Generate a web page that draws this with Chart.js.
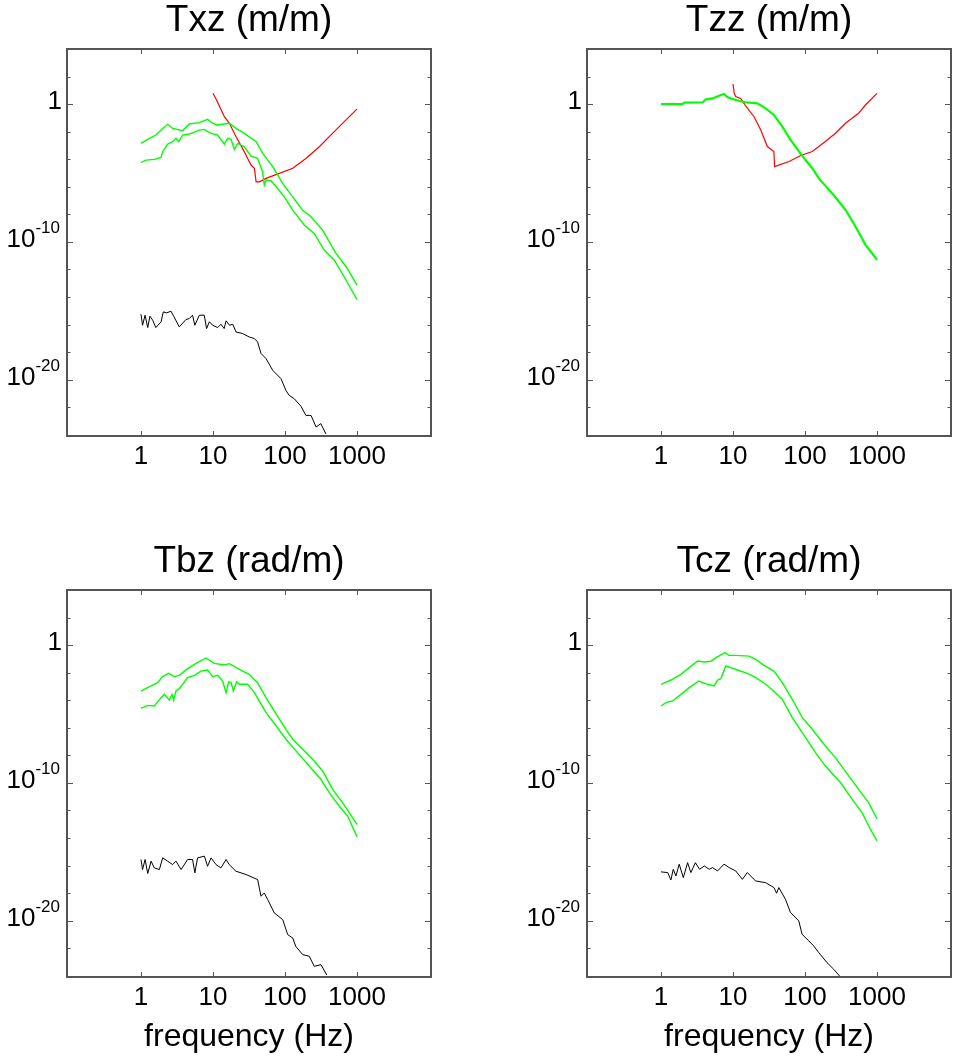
<!DOCTYPE html>
<html>
<head>
<meta charset="utf-8">
<script src="https://cdn.jsdelivr.net/npm/chart.js@4.4.1/dist/chart.umd.min.js"></script>
<style>
  html, body { margin: 0; padding: 0; background: #fff; overflow: hidden; }
  body { position: relative; width: 953px; height: 1061px; }
  canvas { position: absolute; }
</style>
</head>
<body>
<canvas id="txz" width="476" height="500" style="left:0;top:0"></canvas>
<canvas id="tzz" width="433" height="500" style="left:520px;top:0"></canvas>
<canvas id="tbz" width="476" height="520" style="left:0;top:541px"></canvas>
<canvas id="tcz" width="433" height="520" style="left:520px;top:541px"></canvas>
<script>
// frequencies in Hz, values given as log10 of the transfer magnitude

// Txz (m/m)
const txzUpperF = [1, 1.31, 1.61, 2.0, 2.35, 2.75, 3.79, 4.69, 6.46, 8.43, 9.9, 11.6, 16.9, 20.9, 27.2, 39.7, 49, 67.6, 92.7, 128, 176, 230, 333, 510, 708, 1000];
const txzUpperLog = [-2.84, -2.47, -2.23, -1.75, -1.45, -1.75, -1.91, -1.43, -1.33, -1.09, -1.38, -1.5, -1.38, -1.75, -2.11, -2.72, -3.56, -4.53, -5.75, -6.72, -7.69, -8.17, -9.14, -10.83, -11.8, -13.14];
const txzLowerF = [1, 1.17, 1.53, 1.9, 2.0, 2.35, 2.75, 3.06, 3.33, 3.79, 4.69, 6.46, 7.56, 9.38, 11.6, 14.4, 16.0, 17.8, 19.8, 22.1, 27.2, 33.8, 41.6, 48.8, 51.6, 54.5, 63.9, 75.5, 98, 128, 186, 255, 350, 485, 708, 1000];
const txzLowerLog = [-4.24, -4.05, -4.0, -3.85, -3.44, -2.89, -2.71, -2.47, -2.71, -2.23, -2.16, -1.87, -1.82, -2.11, -2.23, -2.89, -2.47, -2.55, -3.27, -2.84, -3.08, -3.76, -3.93, -4.9, -5.87, -5.5, -5.55, -5.99, -6.72, -7.69, -8.78, -9.38, -10.59, -11.32, -12.78, -14.18];
const txzRedF = [10, 11.2, 14.4, 16.9, 20.9, 25.7, 30.3, 33.8, 37.6, 39.7, 44, 54.5, 83.5, 128, 195, 300, 412, 630, 1000];
const txzRedLog = [0.8, 0.31, -0.9, -1.38, -2.35, -3.2, -3.93, -4.41, -4.65, -5.63, -5.63, -5.38, -5.02, -4.65, -3.93, -3.08, -2.35, -1.38, -0.35];
const txzBlackF = [1, 1.05, 1.14, 1.24, 1.33, 1.45, 1.61, 1.9, 2.04, 2.27, 2.61, 2.84, 3.4, 4.2, 4.69, 5.2, 5.6, 6.46, 7.56, 8.14, 8.9, 9.9, 11.6, 12.9, 14.3, 15.2, 16.9, 18.8, 20.9, 25.7, 31.8, 37.6, 41.6, 46.4, 54.5, 67.4, 88, 103, 114, 134, 167, 195, 230, 270, 315, 370];
const txzBlackLog = [-15.25, -16.05, -15.32, -16.22, -15.39, -15.68, -16.22, -15.8, -15.08, -15.15, -15.03, -15.39, -16.17, -15.64, -15.56, -15.32, -16.05, -15.32, -15.32, -16.29, -15.8, -16.05, -16.22, -15.98, -16.29, -15.73, -16.05, -15.98, -16.54, -16.65, -16.9, -17.02, -17.26, -18.1, -18.47, -19.32, -19.93, -20.78, -21.14, -21.38, -21.94, -22.6, -22.6, -23.44, -23.2, -23.95];

// Tzz (m/m)
const tzzGreenF = [1, 2.0, 2.1, 3.8, 4.2, 5.2, 6.4, 7.5, 8.4, 9.9, 12.2, 15.0, 21.8, 28.4, 37, 48.4, 63, 82, 101, 126, 155, 202, 265, 365, 500, 690, 850, 1000];
const tzzGreenLog = [0.02, 0.02, 0.12, 0.15, 0.36, 0.43, 0.63, 0.75, 0.51, 0.39, 0.24, 0.15, 0.07, -0.29, -0.77, -1.62, -2.58, -3.4, -4.03, -4.64, -5.36, -6.05, -6.75, -7.66, -8.86, -10.19, -10.8, -11.3];
const tzzRedF = [10.0, 10.4, 10.9, 12.8, 15, 19.6, 24.3, 30, 37, 37.8, 60, 86, 126, 192, 265, 365, 555, 690, 1000];
const tzzRedLog = [1.47, 0.8, 0.56, 0.43, -0.12, -0.9, -1.86, -3.07, -3.43, -4.52, -4.15, -3.74, -3.43, -2.7, -2.1, -1.38, -0.65, -0.05, 0.8];

// Tbz (rad/m)
const tbzUpperF = [1, 1.31, 1.7, 2.0, 2.42, 2.9, 3.4, 4.45, 5.8, 8.0, 10.4, 14.4, 16.9, 23.2, 31.8, 41.6, 54.5, 75.5, 103, 128, 176, 255, 333, 459, 630, 780, 1000];
const tbzUpperLog = [-3.32, -3.0, -2.71, -2.27, -2.03, -2.27, -2.18, -1.69, -1.31, -0.92, -1.31, -1.43, -1.33, -1.74, -2.11, -2.71, -3.8, -5.0, -6.1, -6.82, -7.55, -8.4, -9.13, -10.46, -11.43, -12.15, -13.0];
const tbzLowerF = [1, 1.24, 1.53, 1.9, 2.11, 2.47, 2.7, 2.84, 3.06, 3.4, 4.45, 5.5, 6.8, 8.4, 9.9, 11.6, 13.6, 15.2, 16.5, 17.8, 19.2, 21.3, 23.2, 30.3, 37.6, 54.5, 75.5, 103, 142, 217, 315, 412, 565, 740, 1000];
const tbzLowerLog = [-4.58, -4.36, -4.41, -3.8, -3.56, -3.97, -3.56, -3.97, -3.32, -3.15, -2.35, -2.18, -1.87, -1.79, -2.27, -2.18, -2.59, -3.44, -2.66, -2.71, -3.32, -2.64, -2.83, -2.83, -3.44, -4.89, -5.86, -6.82, -7.67, -8.77, -9.73, -10.7, -11.67, -12.4, -13.9];
const tbzBlackF = [1, 1.05, 1.14, 1.24, 1.38, 1.53, 1.8, 2.0, 2.34, 2.75, 3.06, 3.6, 4.45, 5.2, 5.6, 6.1, 7.6, 8.4, 9.4, 11.0, 12.9, 15.2, 16.8, 20.8, 28.7, 41.7, 46.4, 51.5, 57.5, 71, 93, 109, 128, 141, 176, 217, 255, 316, 380];
const tbzBlackLog = [-15.56, -16.29, -15.56, -16.58, -15.68, -16.17, -16.29, -15.44, -15.68, -15.93, -15.68, -16.29, -15.56, -15.56, -16.53, -15.44, -15.32, -16.05, -15.44, -15.93, -16.17, -15.56, -15.93, -16.41, -16.65, -17.02, -18.23, -17.99, -18.47, -19.44, -19.93, -21.02, -21.26, -21.87, -22.47, -22.59, -23.32, -23.2, -23.95];

// Tcz (rad/m)
const tczUpperF = [1, 1.38, 1.89, 2.47, 3.22, 3.98, 4.93, 5.78, 7.78, 8.8, 10.9, 16.7, 20.7, 27, 37, 48.3, 66.6, 91.6, 126, 192, 264, 405, 556, 765, 1000];
const tczUpperLog = [-2.83, -2.52, -2.11, -1.62, -1.14, -1.21, -1.16, -0.89, -0.53, -0.73, -0.73, -0.78, -1.02, -1.45, -1.87, -2.71, -3.92, -5.25, -6.1, -7.31, -8.16, -9.49, -10.46, -11.43, -12.6];
const tczLowerF = [1, 1.17, 1.45, 1.89, 2.47, 3.33, 4.43, 5.47, 6.1, 6.77, 7.94, 9.3, 11.5, 15.8, 20.7, 28.5, 39, 48.3, 66.6, 91.6, 140, 192, 311, 450, 620, 810, 1000];
const tczLowerLog = [-4.41, -4.16, -4.04, -3.56, -3.07, -2.59, -2.83, -2.95, -2.52, -2.42, -1.5, -1.62, -1.79, -2.03, -2.35, -2.83, -3.44, -3.92, -5.25, -6.34, -7.79, -8.77, -9.97, -11.18, -12.15, -13.36, -14.2];
const tczBlackF = [1, 1.24, 1.37, 1.48, 1.61, 1.79, 2.04, 2.34, 2.6, 3.0, 3.43, 4.0, 4.67, 5.2, 6.1, 7.5, 8.85, 10.9, 13.5, 15.8, 20.6, 28.3, 37, 40.3, 43.3, 53.5, 63, 82, 91, 113, 132, 155, 202, 250, 310];
const tczBlackLog = [-16.46, -16.51, -17.05, -16.27, -16.76, -15.9, -16.88, -15.79, -16.51, -15.79, -16.27, -16.03, -16.27, -16.15, -16.39, -15.9, -16.15, -16.39, -17.0, -16.51, -17.12, -17.24, -17.6, -18.01, -17.6, -18.45, -19.42, -20.02, -20.99, -21.48, -21.84, -22.32, -23.05, -23.53, -24.09];

// axes
const xTickValues = [1, 10, 100, 1000];
const yTickExponents = [2, 0, -2, -4, -6, -8, -10, -12, -14, -16, -18, -20, -22];
const yLabelExponents = [0, -10, -20];

const FONT = '"Liberation Sans", Arial, Helvetica, sans-serif';
const GREEN = '#00ff00';
const RED = '#ff0000';
const BLACK = '#000000';
const AXIS = '#555555';

// frame box, inward ticks and y labels with superscript exponents
const framePlugin = {
    id: 'frame',
    afterDraw(chart) {
        const { ctx, chartArea: a } = chart;
        const x = chart.scales.x, y = chart.scales.y;
        ctx.save();
        ctx.strokeStyle = AXIS;
        ctx.lineWidth = 1;
        ctx.beginPath();
        xTickValues.forEach(v => {
            const px = Math.round(x.getPixelForValue(v)) + 0.5;
            ctx.moveTo(px, a.bottom); ctx.lineTo(px, a.bottom - 5);
            ctx.moveTo(px, a.top); ctx.lineTo(px, a.top + 5);
        });
        yTickExponents.forEach(e => {
            const py = Math.round(y.getPixelForValue(Math.pow(10, e))) + 0.5;
            const len = e % 10 === 0 ? 6 : 3.5;
            ctx.moveTo(a.left, py); ctx.lineTo(a.left + len, py);
            ctx.moveTo(a.right, py); ctx.lineTo(a.right - len, py);
        });
        ctx.stroke();
        ctx.lineWidth = 2;
        ctx.strokeRect(a.left, a.top, a.right - a.left, a.bottom - a.top);

        ctx.fillStyle = '#000';
        ctx.textAlign = 'right';
        ctx.textBaseline = 'alphabetic';
        const right = a.left - 7;
        yLabelExponents.forEach(e => {
            const py = y.getPixelForValue(Math.pow(10, e));
            if (e === 0) {
                ctx.font = '26px ' + FONT;
                ctx.fillText('1', right + 2, py + 4.5);
            } else {
                const sup = String(e);
                ctx.font = '17px ' + FONT;
                ctx.fillText(sup, right, py - 9);
                const w = ctx.measureText(sup).width;
                ctx.font = '26px ' + FONT;
                ctx.fillText('10', right - w, py + 5);
            }
        });
        ctx.restore();
    }
};

function series(f, logv, color, width) {
    return {
        data: f.map((fr, i) => ({ x: fr, y: Math.pow(10, logv[i]) })),
        borderColor: color,
        borderWidth: width || 1,
        pointRadius: 0,
        tension: 0,
        fill: false
    };
}

function makeChart(id, title, datasets, rightPad, showXTitle) {
    return new Chart(document.getElementById(id), {
        type: 'line',
        data: { datasets: datasets },
        options: {
            responsive: false,
            animation: false,
            devicePixelRatio: 1,
            layout: { padding: { left: 0, right: rightPad, top: 0, bottom: 0 } },
            plugins: {
                legend: { display: false },
                tooltip: { enabled: false },
                title: {
                    display: true,
                    text: title,
                    fullSize: false,
                    color: '#000',
                    font: { family: FONT, size: 37, weight: 'normal', lineHeight: 1 },
                    padding: { top: 2, bottom: 10 }
                }
            },
            scales: {
                x: {
                    type: 'logarithmic',
                    position: 'bottom',
                    min: Math.pow(10, -1.028),
                    max: Math.pow(10, 4.028),
                    grid: { display: false, drawTicks: false },
                    border: { display: false },
                    afterBuildTicks: s => { s.ticks = xTickValues.map(v => ({ value: v })); },
                    afterFit: s => { s.height = showXTitle ? 84 : 64; },
                    ticks: {
                        autoSkip: false,
                        maxRotation: 0,
                        padding: 5,
                        color: '#000',
                        font: { family: FONT, size: 26 },
                        callback: v => String(v)
                    },
                    title: {
                        display: showXTitle,
                        text: 'frequency (Hz)',
                        color: '#000',
                        font: { family: FONT, size: 32, lineHeight: 1 },
                        padding: { top: 0, bottom: 8 }
                    }
                },
                y: {
                    type: 'logarithmic',
                    min: Math.pow(10, -24.08),
                    max: Math.pow(10, 4.02),
                    grid: { display: false, drawTicks: false },
                    border: { display: false },
                    ticks: { display: false },
                    afterFit: s => { s.width = 67; }
                }
            }
        },
        plugins: [framePlugin]
    });
}

makeChart('txz', 'Txz (m/m)', [
    series(txzUpperF, txzUpperLog, GREEN, 1.4),
    series(txzLowerF, txzLowerLog, GREEN, 1.4),
    series(txzRedF, txzRedLog, RED, 1.2),
    series(txzBlackF, txzBlackLog, BLACK, 1)
], 45, false);

makeChart('tzz', 'Tzz (m/m)', [
    series(tzzGreenF, tzzGreenLog, GREEN, 2.2),
    series(tzzRedF, tzzRedLog, RED, 1.2)
], 2, false);

makeChart('tbz', 'Tbz (rad/m)', [
    series(tbzUpperF, tbzUpperLog, GREEN, 1.4),
    series(tbzLowerF, tbzLowerLog, GREEN, 1.4),
    series(tbzBlackF, tbzBlackLog, BLACK, 1)
], 45, true);

makeChart('tcz', 'Tcz (rad/m)', [
    series(tczUpperF, tczUpperLog, GREEN, 1.4),
    series(tczLowerF, tczLowerLog, GREEN, 1.4),
    series(tczBlackF, tczBlackLog, BLACK, 1)
], 2, true);
</script>
</body>
</html>
